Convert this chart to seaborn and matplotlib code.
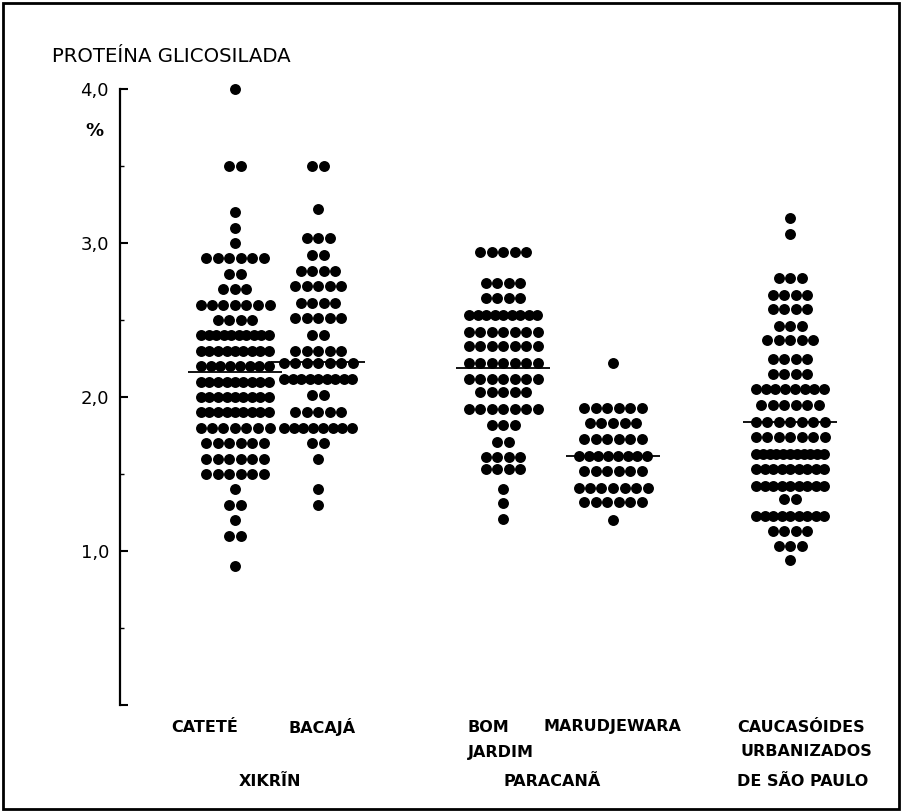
import numpy as np
import pandas as pd
import matplotlib
matplotlib.use("Agg")
import matplotlib.pyplot as plt
import matplotlib.patches as patches
import seaborn as sns

# Row values (%) and number of individuals per row
catete_vals = [4.0, 3.5, 3.2, 3.1, 3.0, 2.9, 2.8, 2.7, 2.6, 2.5, 2.4, 2.3, 2.2, 2.1, 2.0,
               1.9, 1.8, 1.7, 1.6, 1.5, 1.4, 1.3, 1.2, 1.1, 0.9]
catete_counts = [1, 2, 1, 1, 1, 6, 2, 3, 7, 4, 10, 9, 8, 9, 9, 9, 7, 6, 6, 6, 1, 2, 1, 2, 1]

bacaja_vals = [3.5, 3.22, 3.03, 2.92, 2.82, 2.72, 2.61, 2.51, 2.4, 2.3, 2.22, 2.12, 2.01,
               1.9, 1.8, 1.7, 1.6, 1.4, 1.3]
bacaja_counts = [2, 1, 3, 2, 4, 5, 4, 5, 2, 5, 7, 9, 2, 5, 8, 2, 1, 1, 1]

bomjardim_vals = [2.94, 2.74, 2.64, 2.53, 2.42, 2.33, 2.22, 2.12, 2.03, 1.92, 1.82, 1.71,
                  1.61, 1.53, 1.4, 1.31, 1.21]
bomjardim_counts = [5, 4, 4, 9, 7, 7, 7, 7, 5, 7, 3, 2, 4, 4, 1, 1, 1]

marudjewara_vals = [2.22, 1.93, 1.83, 1.73, 1.62, 1.52, 1.41, 1.32, 1.2]
marudjewara_counts = [1, 6, 5, 6, 8, 6, 7, 6, 1]

caucasoides_vals = [3.16, 3.06, 2.77, 2.66, 2.57, 2.46, 2.37, 2.25, 2.15, 2.05, 1.95, 1.84,
                    1.74, 1.63, 1.53, 1.42, 1.34, 1.23, 1.13, 1.03, 0.94]
caucasoides_counts = [1, 1, 3, 4, 4, 3, 5, 4, 4, 8, 6, 7, 7, 11, 9, 9, 2, 9, 4, 3, 1]

group_names = ["CATETÉ", "BACAJÁ", "BOM JARDIM", "MARUDJEWARA", "CAUCASÓIDES"]
group_medians = [2.16, 2.23, 2.19, 1.62, 1.84]
group_pos = [1.15, 1.98, 3.83, 4.93, 6.70]

groups = [(catete_vals, catete_counts), (bacaja_vals, bacaja_counts),
          (bomjardim_vals, bomjardim_counts), (marudjewara_vals, marudjewara_counts),
          (caucasoides_vals, caucasoides_counts)]

# Build long table: one row per individual, spread horizontally within a value row
step = 0.115
max_span = 0.68
records = []
for name, pos, (vals, counts) in zip(group_names, group_pos, groups):
    for v, n in zip(vals, counts):
        sp = step if n <= 7 else min(step, max_span / (n - 1))
        for i in range(n):
            records.append({"grupo": name, "x": pos + (i - (n - 1) / 2) * sp, "valor": v})
df = pd.DataFrame(records)

sns.set_style("white")
plt.rcParams['font.family'] = ['DejaVu Sans']
plt.rcParams['text.color'] = 'black'
plt.rcParams['ytick.color'] = 'black'
plt.rcParams['axes.labelcolor'] = 'black'

fig = plt.figure(figsize=(9.02, 8.11), dpi=100)
W, H = 902, 811


def px(x, y):
    return x / W, 1 - y / H


ax = fig.add_axes([120 / W, (H - 705) / H, 760 / W, 616 / H])
sns.scatterplot(data=df, x="x", y="valor", color="black", s=62, linewidth=0,
                clip_on=False, legend=False, ax=ax)

# median lines
for pos, med in zip(group_pos, group_medians):
    ax.hlines(med, pos - 0.47, pos + 0.47, color="black", linewidth=1.3)

ax.set_xlim(0, 7.6)
ax.set_ylim(0, 4.0)
ax.set_xlabel("")
ax.set_ylabel("")
ax.set_xticks([])
ax.set_yticks([0, 1, 2, 3, 4])
ax.set_yticklabels(["", "1,0", "2,0", "3,0", "4,0"], fontsize=13)
ax.set_yticks([0.5, 1.5, 2.5, 3.5], minor=True)
ax.tick_params(axis="y", which="major", direction="in", length=6, width=1.5,
               left=True, pad=8, colors="black")
ax.tick_params(axis="y", which="minor", direction="in", length=3, width=1, left=True,
               colors="black")
for s in ["top", "right", "bottom"]:
    ax.spines[s].set_visible(False)
ax.spines["left"].set_linewidth(1.6)
ax.spines["left"].set_color("black")
ax.patch.set_alpha(0)

# titles
fig.text(*px(52, 56), "PROTEÍNA GLICOSILADA", fontsize=14.2, va="center", ha="left")
fig.text(*px(94, 131), "%", fontsize=13, fontweight="bold", va="center", ha="center")

lab = dict(fontsize=11.5, fontweight="bold", va="center",
           family=["Liberation Sans Narrow", "DejaVu Sans"])
fig.text(*px(205, 727), "CATETÉ", ha="center", **lab)
fig.text(*px(322, 727), "BACAJÁ", ha="center", **lab)
fig.text(*px(270, 781), "XIKRĨN", ha="center", **lab)
fig.text(*px(468, 727), "BOM", ha="left", **lab)
fig.text(*px(468, 752), "JARDIM", ha="left", **lab)
fig.text(*px(612, 727), "MARUDJEWARA", ha="center", **lab)
fig.text(*px(552, 781), "PARACANÃ", ha="center", **lab)
fig.text(*px(737, 727), "CAUCASÓIDES", ha="left", **lab)
fig.text(*px(740, 752), "URBANIZADOS", ha="left", **lab)
fig.text(*px(737, 781), "DE SÃO PAULO", ha="left", **lab)

# outer frame
fig.patches.append(patches.Rectangle((3 / W, 2 / H), 896 / W, 806 / H, fill=False,
                                     edgecolor="black", linewidth=2,
                                     transform=fig.transFigure, figure=fig))

fig.savefig("out.png", dpi=100)
